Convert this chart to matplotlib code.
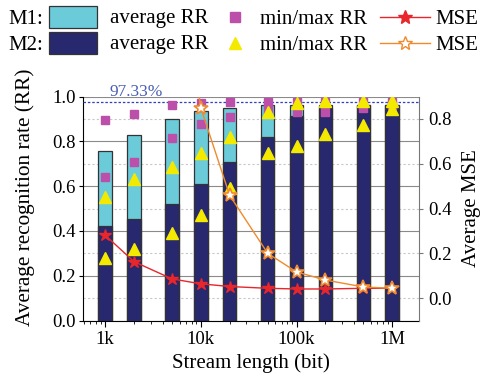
import numpy as np
import matplotlib.pyplot as plt
from matplotlib.patches import Rectangle

plt.rcParams['font.family'] = ['Liberation Serif', 'DejaVu Serif']

# stream length (bit)
lengths = [1e3, 2e3, 5e3, 1e4, 2e4, 5e4, 1e5, 2e5, 5e5, 1e6]

# M1 / M2 average recognition rate
m1_avg = [0.757, 0.827, 0.899, 0.936, 0.948, 0.960, 0.961, 0.962, 0.963, 0.963]
m2_avg = [0.423, 0.454, 0.522, 0.610, 0.707, 0.821, 0.914, 0.948, 0.963, 0.963]

# min / max recognition rate
m1_min = [0.640, 0.707, 0.814, 0.879, 0.908, 0.943, 0.932, 0.933, 0.948, 0.960]
m1_max = [0.893, 0.921, 0.961, 0.973, 0.975, 0.975, 0.975, 0.975, 0.975, 0.975]
m2_min = [0.278, 0.321, 0.390, 0.472, 0.591, 0.750, 0.780, 0.832, 0.873, 0.943]
m2_max = [0.551, 0.631, 0.685, 0.750, 0.818, 0.929, 0.970, 0.978, 0.978, 0.978]

# average MSE
m1_mse = [0.281, 0.163, 0.086, 0.064, 0.052, 0.044, 0.041, 0.041, 0.044, 0.044]
m2_mse = [2.5, 2.1, 1.7, 0.849, 0.459, 0.200, 0.117, 0.081, 0.050, 0.044]

best_rr = 0.9733

c_m1 = '#6ccbd9'
c_m2 = '#27286e'
c_sq = '#bb4fa9'
c_tri = '#f3ea00'
c_red = '#e8262b'
c_org = '#f08a2c'

fig = plt.figure(figsize=(4.82, 3.83), dpi=100)
ax = fig.add_axes([0.172, 0.163, 0.697, 0.585])
ax2 = ax.twinx()

x = np.array(lengths)
w = 0.07  # half bar width in decades
lo = x * 10 ** (-w)
wd = x * (10 ** w - 10 ** (-w))

ax.set_axisbelow(True)
ax.bar(lo, m1_avg, width=wd, align='edge', color=c_m1, edgecolor='#333333', linewidth=0.9, zorder=2)
ax.bar(lo, m2_avg, width=wd, align='edge', color=c_m2, edgecolor='#333333', linewidth=0.9, zorder=3)
ax.axhline(best_rr, color='#2f3fbf', linestyle=(0, (2, 1.5)), linewidth=0.9, zorder=4)
ax.text(2.1e3, 1.003, '97.33%', color='#4a5fb5', fontsize=12.5, ha='center', va='baseline', clip_on=False)

ax.plot(x, m1_min, 's', color=c_sq, markersize=5.5, zorder=5, linestyle='none')
ax.plot(x, m1_max, 's', color=c_sq, markersize=5.5, zorder=5, linestyle='none')
ax.plot(x, m2_min, '^', color=c_tri, markersize=8, zorder=6, linestyle='none')
ax.plot(x, m2_max, '^', color=c_tri, markersize=8, zorder=6, linestyle='none')

ax2.plot(x, m1_mse, '-*', color=c_red, markersize=9, linewidth=1.0, zorder=7)
ax2.plot(x, m2_mse, '-*', color=c_org, markerfacecolor='white', markeredgecolor=c_org,
         markersize=10, markeredgewidth=1.2, linewidth=1.0, zorder=7)

ax.set_xscale('log')
ax.set_xlim(585, 1.9e6)
ax.set_ylim(0, 1.0)
ax2.set_ylim(-0.1, 0.9)
ax.set_xticks([1e3, 1e4, 1e5, 1e6])
ax.set_xticklabels(['1k', '10k', '100k', '1M'])
ax.set_yticks(np.arange(0, 1.01, 0.2))
ax.set_yticklabels([f'{v:.1f}' for v in np.arange(0, 1.01, 0.2)])
ax.set_yticks(np.arange(0.1, 1.0, 0.2), minor=True)
ax2.set_yticks(np.arange(0, 0.81, 0.2))
ax2.set_yticklabels([f'{v:.1f}' for v in np.arange(0, 0.81, 0.2)])

ax.grid(axis='y', which='major', color='#8a8a8a', linewidth=0.8)
ax.grid(axis='y', which='minor', color='#c8c8c8', linewidth=0.8, linestyle=(0, (2, 2)))
ax.tick_params(axis='y', which='minor', length=0)
ax.tick_params(axis='both', labelsize=13.5, direction='out')
ax.tick_params(axis='y', which='major', length=3, pad=2)
ax.tick_params(axis='x', which='major', length=4)
ax.tick_params(axis='x', which='minor', length=2)
ax2.tick_params(axis='y', labelsize=13.5, direction='out', length=3, colors='#777777', labelcolor='black')

for a in (ax, ax2):
    a.spines['top'].set_visible(False)
ax.spines['right'].set_visible(False)
ax2.spines['left'].set_visible(False)
ax2.spines['bottom'].set_visible(False)
ax2.spines['right'].set_color('#777777')

ax.set_xlabel('Stream length (bit)', fontsize=15, labelpad=4)
ax.set_ylabel('Average recognition rate (RR)', fontsize=15.3)
ax.yaxis.set_label_coords(-0.143, 0.55)
ax2.set_ylabel('Average MSE', fontsize=15, labelpad=8)

# legend drawn in pixel coordinates on an overlay
leg = fig.add_axes([0, 0, 1, 1], facecolor='none')
leg.set_xlim(0, 482)
leg.set_ylim(383, 0)
leg.axis('off')
rows = [17, 43]
for y, name, box_c, mk, mk_c, mk_s, ln_c, ln_face in [
        (rows[0], 'M1:', c_m1, 's', c_sq, 6.5, c_red, c_red),
        (rows[1], 'M2:', c_m2, '^', c_tri, 9, c_org, 'white')]:
    leg.text(8, y + 2, name, fontsize=15, va='center', ha='left')
    leg.add_patch(Rectangle((49, y - 11), 48, 22, facecolor=box_c, edgecolor='#333333', linewidth=0.9))
    leg.text(110, y + 2, 'average RR', fontsize=15, va='center', ha='left')
    leg.plot([235], [y], marker=mk, color=mk_c, markersize=mk_s, linestyle='none')
    leg.text(260, y + 2, 'min/max RR', fontsize=15, va='center', ha='left')
    leg.plot([380, 430], [y, y], color=ln_c, linewidth=1.0)
    leg.plot([405], [y], marker='*', color=ln_c, markerfacecolor=ln_face, markeredgecolor=ln_c,
             markersize=10, linestyle='none')
    leg.text(435, y + 2, 'MSE', fontsize=15, va='center', ha='left')

fig.savefig('out.png', dpi=100)
